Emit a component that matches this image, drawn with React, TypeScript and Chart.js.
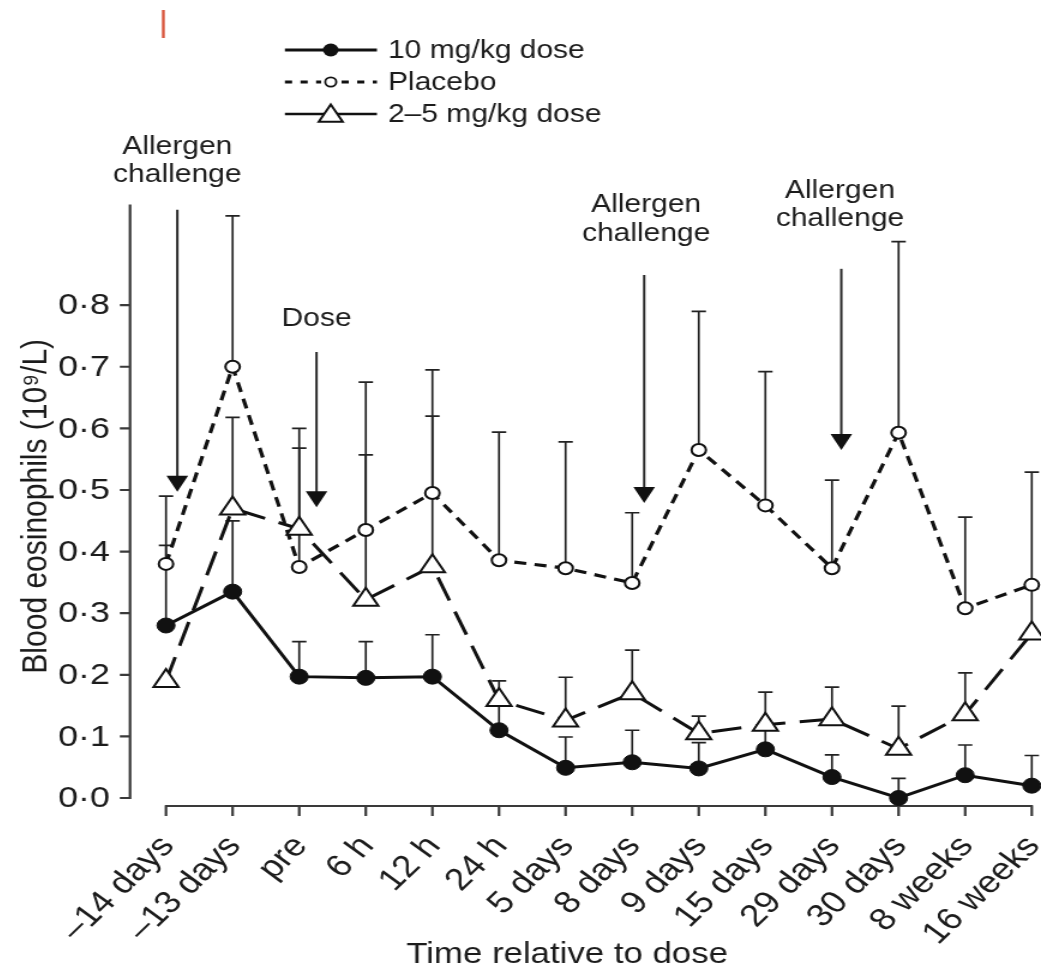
import { useEffect, useRef } from 'react';
import { Chart, registerables } from 'chart.js';

Chart.register(...registerables);

// ---- data -------------------------------------------------------------
const categories = [
  '\u201314 days', '\u201313 days', 'pre', '6 h', '12 h', '24 h', '5 days',
  '8 days', '9 days', '15 days', '29 days', '30 days', '8 weeks', '16 weeks',
];

// 10 mg/kg dose: means and upper error-bar ends
const dose10 = [0.28, 0.335, 0.197, 0.195, 0.197, 0.11, 0.049, 0.058, 0.048, 0.079, 0.034, 0.0, 0.037, 0.02];
const dose10Upper = [0.41, 0.45, 0.254, 0.254, 0.265, 0.15, 0.099, 0.11, 0.09, 0.11, 0.07, 0.032, 0.086, 0.069];

// Placebo
const placebo = [0.38, 0.70, 0.375, 0.435, 0.495, 0.386, 0.373, 0.349, 0.565, 0.475, 0.373, 0.593, 0.308, 0.346];
const placeboUpper = [0.49, 0.945, 0.60, 0.675, 0.695, 0.594, 0.578, 0.463, 0.79, 0.692, 0.516, 0.903, 0.456, 0.529];

// 2–5 mg/kg dose
const dose25 = [0.19, 0.47, 0.437, 0.322, 0.376, 0.159, 0.126, 0.17, 0.105, 0.119, 0.128, 0.08, 0.136, 0.267];
const dose25Upper = [null, 0.618, 0.568, 0.557, 0.62, 0.19, 0.196, 0.24, 0.133, 0.172, 0.18, 0.149, 0.203, 0.34];

const yTickValues = [0, 0.1, 0.2, 0.3, 0.4, 0.5, 0.6, 0.7, 0.8];
const yTickLabels = ['0\u00B70', '0\u00B71', '0\u00B72', '0\u00B73', '0\u00B74', '0\u00B75', '0\u00B76', '0\u00B77', '0\u00B78'];

const yTitle = 'Blood eosinophils (10\u2079/L)';
const xTitle = 'Time relative to dose';

// event markers: x in category units, arrow from top to tip, text line centres (all in axis units)
const events = [
  { x: 0.17, top: 0.955, tip: 0.497, text: ['Allergen', 'challenge'], textX: 0.17, textY: [1.057, 1.011] },
  { x: 2.26, top: 0.724, tip: 0.472, text: ['Dose'], textX: 2.26, textY: [0.778] },
  { x: 7.18, top: 0.849, tip: 0.479, text: ['Allergen', 'challenge'], textX: 7.21, textY: [0.963, 0.915] },
  { x: 10.14, top: 0.859, tip: 0.565, text: ['Allergen', 'challenge'], textX: 10.12, textY: [0.985, 0.94] },
];

const legendLabels = ['10 mg/kg dose', 'Placebo', '2\u20135 mg/kg dose'];

// ---- drawing helpers ---------------------------------------------------
const FONT = '"Liberation Sans", Arial, Helvetica, sans-serif';
const INK = '#1c1c1c';
const CANVAS_W = 861;
const CANVAS_H = 959;
const STRETCH = 1033 / CANVAS_W;
const LABEL_ANGLE = (49 * Math.PI) / 180;

const font = (size: number) => `${size}px ${FONT}`;

function triangle(ctx: CanvasRenderingContext2D, cx: number, cy: number, r: number) {
  ctx.beginPath();
  for (let k = 0; k < 3; k++) {
    const a = (k * 2 * Math.PI) / 3;
    const px = cx + Math.sin(a) * r;
    const py = cy - Math.cos(a) * r;
    if (k === 0) ctx.moveTo(px, py);
    else ctx.lineTo(px, py);
  }
  ctx.closePath();
}

const decor = {
  id: 'decor',
  beforeDatasetsDraw(chart: any) {
    const { ctx, chartArea } = chart;
    const x = chart.scales.x;
    const y = chart.scales.y;
    const y0 = y.getPixelForValue(0);
    ctx.save();

    // detached y axis with its tick labels
    const axisX = chartArea.left - 30;
    ctx.strokeStyle = '#3a3a3a';
    ctx.lineWidth = 2.2;
    ctx.beginPath();
    ctx.moveTo(axisX, chartArea.top - 2);
    ctx.lineTo(axisX, y0 + 1);
    for (const v of yTickValues) {
      const py = y.getPixelForValue(v);
      ctx.moveTo(axisX - 8.5, py);
      ctx.lineTo(axisX + 1, py);
    }
    ctx.stroke();
    ctx.font = font(30);
    ctx.fillStyle = INK;
    ctx.textAlign = 'right';
    ctx.textBaseline = 'middle';
    yTickValues.forEach((v, k) => ctx.fillText(yTickLabels[k], axisX - 16.7, y.getPixelForValue(v) + 1));

    // detached x axis with rotated category labels
    const axisY = y0 + 8;
    ctx.beginPath();
    ctx.moveTo(chartArea.left - 1, axisY);
    ctx.lineTo(chartArea.right + 1, axisY);
    categories.forEach((_, i) => {
      const px = x.getPixelForValue(i);
      ctx.moveTo(px, axisY);
      ctx.lineTo(px, axisY + 10);
    });
    ctx.stroke();
    ctx.font = font(31);
    ctx.textAlign = 'right';
    ctx.textBaseline = 'middle';
    categories.forEach((label, i) => {
      const px = x.getPixelForValue(i);
      ctx.save();
      ctx.translate(px + 1.5, axisY + 35);
      ctx.rotate(-LABEL_ANGLE);
      ctx.fillText(label, 0, 0);
      ctx.restore();
    });

    // upper error bars
    ctx.strokeStyle = '#222';
    ctx.lineWidth = 1.7;
    const groups: [number[], (number | null)[]][] = [
      [dose10, dose10Upper],
      [placebo, placeboUpper],
      [dose25, dose25Upper],
    ];
    for (const [mean, upper] of groups) {
      mean.forEach((m, i) => {
        const u = upper[i];
        if (u === null || u === undefined) return;
        const px = x.getPixelForValue(i);
        const pm = y.getPixelForValue(m);
        const pu = y.getPixelForValue(u);
        ctx.beginPath();
        ctx.moveTo(px, pm);
        ctx.lineTo(px, pu);
        ctx.moveTo(px - 6, pu);
        ctx.lineTo(px + 6, pu);
        ctx.stroke();
      });
    }
    ctx.restore();
  },
  afterDraw(chart: any) {
    const { ctx, chartArea } = chart;
    const x = chart.scales.x;
    const y = chart.scales.y;
    ctx.save();

    // event arrows and their captions
    for (const ev of events) {
      const px = x.getPixelForValue(ev.x);
      const pt = y.getPixelForValue(ev.top);
      const tip = y.getPixelForValue(ev.tip);
      ctx.strokeStyle = '#2a2a2a';
      ctx.lineWidth = 2;
      ctx.beginPath();
      ctx.moveTo(px, pt);
      ctx.lineTo(px, tip - 10);
      ctx.stroke();
      ctx.fillStyle = '#111';
      ctx.beginPath();
      ctx.moveTo(px - 9, tip - 16);
      ctx.lineTo(px + 9, tip - 16);
      ctx.lineTo(px, tip);
      ctx.closePath();
      ctx.fill();

      ctx.font = font(25);
      ctx.fillStyle = INK;
      ctx.textAlign = 'center';
      ctx.textBaseline = 'middle';
      const tx = x.getPixelForValue(ev.textX);
      ev.text.forEach((line, k) => ctx.fillText(line, tx, y.getPixelForValue(ev.textY[k])));
    }

    // legend
    const lx0 = 230.8;
    const lx1 = 307.5;
    const lm = 269;
    const rows = [42, 74, 106];
    const textX = 316.7;
    ctx.strokeStyle = '#111';
    // 10 mg/kg
    ctx.lineWidth = 3;
    ctx.beginPath();
    ctx.moveTo(lx0, rows[0]);
    ctx.lineTo(lx1, rows[0]);
    ctx.stroke();
    ctx.fillStyle = '#111';
    ctx.beginPath();
    ctx.arc(lm, rows[0], 6.5, 0, Math.PI * 2);
    ctx.fill();
    // placebo
    ctx.lineWidth = 2.8;
    ctx.setLineDash([6, 7]);
    ctx.beginPath();
    ctx.moveTo(lx0, rows[1]);
    ctx.lineTo(lm - 8, rows[1]);
    ctx.moveTo(lm + 9, rows[1]);
    ctx.lineTo(lx1, rows[1]);
    ctx.stroke();
    ctx.setLineDash([]);
    ctx.lineWidth = 1.8;
    ctx.fillStyle = '#fff';
    ctx.beginPath();
    ctx.arc(lm, rows[1], 4.6, 0, Math.PI * 2);
    ctx.fill();
    ctx.stroke();
    // 2–5 mg/kg
    ctx.lineWidth = 2.4;
    ctx.beginPath();
    ctx.moveTo(lx0, rows[2]);
    ctx.lineTo(lx1, rows[2]);
    ctx.stroke();
    ctx.lineWidth = 2;
    triangle(ctx, lm, rows[2] + 2, 11.5);
    ctx.fill();
    ctx.stroke();

    ctx.font = font(25);
    ctx.fillStyle = INK;
    ctx.textAlign = 'left';
    ctx.textBaseline = 'middle';
    legendLabels.forEach((t, k) => ctx.fillText(t, textX, rows[k] + 1));

    // axis titles
    ctx.font = font(30);
    ctx.textAlign = 'center';
    ctx.save();
    ctx.translate(24, (chartArea.top + y.getPixelForValue(0)) / 2 + 4);
    ctx.rotate(-Math.PI / 2);
    ctx.fillText(yTitle, 0, 0);
    ctx.restore();

    ctx.font = font(29);
    ctx.textBaseline = 'alphabetic';
    ctx.fillText(xTitle, 466, 955);

    // small red crop mark at the top
    ctx.fillStyle = '#d9583f';
    ctx.fillRect(128.3, 2, 2.4, 28);
    ctx.restore();
  },
};

export default function App() {
  const canvasRef = useRef<HTMLCanvasElement | null>(null);

  useEffect(() => {
    const canvas = canvasRef.current;
    if (!canvas) return;

    const chart = new Chart(canvas, {
      type: 'line',
      data: {
        labels: categories,
        datasets: [
          {
            label: legendLabels[0],
            data: dose10,
            borderColor: '#111',
            borderWidth: 3,
            pointStyle: 'circle',
            pointRadius: 7.5,
            pointBackgroundColor: '#111',
            pointBorderColor: '#111',
            pointBorderWidth: 1,
            tension: 0,
            clip: false,
            order: 1,
          },
          {
            label: legendLabels[1],
            data: placebo,
            borderColor: '#111',
            borderWidth: 3.2,
            borderDash: [10, 7],
            pointStyle: 'circle',
            pointRadius: 6,
            pointBackgroundColor: '#fff',
            pointBorderColor: '#111',
            pointBorderWidth: 2,
            tension: 0,
            clip: false,
            order: 3,
          },
          {
            label: legendLabels[2],
            data: dose25,
            borderColor: '#111',
            borderWidth: 3,
            borderDash: [25, 12],
            pointStyle: 'triangle',
            pointRadius: 12,
            pointBackgroundColor: '#fff',
            pointBorderColor: '#111',
            pointBorderWidth: 2,
            tension: 0,
            clip: false,
            order: 2,
          },
        ],
      },
      options: {
        responsive: false,
        animation: false,
        devicePixelRatio: 1,
        layout: { autoPadding: false, padding: { top: 198.6, right: 7.7, bottom: 169, left: 131.7 } },
        plugins: {
          legend: { display: false },
          tooltip: { enabled: false },
        },
        scales: {
          x: {
            type: 'category',
            offset: false,
            display: false,
          },
          y: {
            type: 'linear',
            min: 0,
            max: 0.96,
            display: false,
          },
        },
      },
      plugins: [decor],
    });

    return () => chart.destroy();
  }, []);

  return (
    <canvas
      ref={canvasRef}
      width={CANVAS_W}
      height={CANVAS_H}
      style={{
        position: 'fixed',
        left: '8px',
        top: '8px',
        display: 'block',
        width: `${Math.round(CANVAS_W * STRETCH)}px`,
        height: `${CANVAS_H}px`,
      }}
    />
  );
}
